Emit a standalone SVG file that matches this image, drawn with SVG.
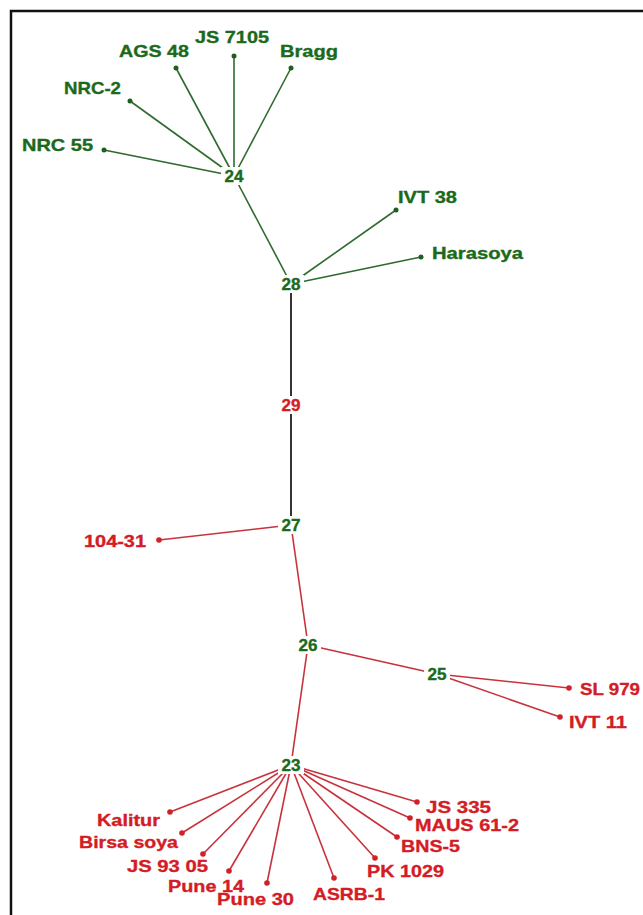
<svg xmlns="http://www.w3.org/2000/svg" width="643" height="915" viewBox="0 0 643 915">
<style>
.g{stroke:#2f6a2f;stroke-width:1.6;fill:none}
.r{stroke:#c8323c;stroke-width:1.6;fill:none}
.k{stroke:#333;stroke-width:2;fill:none}
.gd{fill:#1f5e1f}
.rd{fill:#d0202a}
.lbl{font-family:"Liberation Sans",Arial,sans-serif;font-weight:bold;font-size:17px;stroke-width:0.35}
.gt{fill:#1b6a1b;stroke:#1b6a1b}
.rt{fill:#d41c24;stroke:#d41c24}
.num{font-family:"Liberation Sans",Arial,sans-serif;font-weight:bold;font-size:16px;text-anchor:middle;stroke-width:0.35}
.bg{fill:#fff}
</style>
<rect x="11" y="11" width="700" height="1000" fill="#fff" stroke="#111" stroke-width="2.5"/>
<g id="connectors">
<line class="g" x1="234" y1="176" x2="104" y2="150"/>
<line class="g" x1="234" y1="176" x2="130" y2="101"/>
<line class="g" x1="234" y1="176" x2="176" y2="68"/>
<line class="g" x1="234" y1="176" x2="234" y2="56"/>
<line class="g" x1="234" y1="176" x2="291" y2="68"/>
<line class="g" x1="234" y1="176" x2="291" y2="284"/>
<line class="g" x1="291" y1="284" x2="396" y2="210"/>
<line class="g" x1="291" y1="284" x2="421" y2="257"/>
<line class="k" x1="291" y1="284" x2="291" y2="525"/>
<line class="r" x1="291" y1="525" x2="159" y2="540"/>
<line class="r" x1="291" y1="525" x2="308" y2="645"/>
<line class="r" x1="308" y1="645" x2="437" y2="674"/>
<line class="r" x1="437" y1="674" x2="569" y2="688"/>
<line class="r" x1="437" y1="674" x2="560" y2="717"/>
<line class="r" x1="308" y1="645" x2="291" y2="765"/>
<line class="r" x1="291" y1="765" x2="170" y2="812"/>
<line class="r" x1="291" y1="765" x2="182" y2="833"/>
<line class="r" x1="291" y1="765" x2="203" y2="854"/>
<line class="r" x1="291" y1="765" x2="229" y2="871"/>
<line class="r" x1="291" y1="765" x2="267" y2="883"/>
<line class="r" x1="291" y1="765" x2="334" y2="878"/>
<line class="r" x1="291" y1="765" x2="375" y2="858"/>
<line class="r" x1="291" y1="765" x2="397" y2="837"/>
<line class="r" x1="291" y1="765" x2="410" y2="818"/>
<line class="r" x1="291" y1="765" x2="417" y2="802"/>
</g>
<g id="n24"><rect class="bg" x="221" y="167" width="26" height="18"/><text class="num gt" x="234" y="182" textLength="19" lengthAdjust="spacingAndGlyphs">24</text></g>
<g id="n28"><rect class="bg" x="278" y="275" width="26" height="18"/><text class="num gt" x="291" y="290" textLength="19" lengthAdjust="spacingAndGlyphs">28</text></g>
<g id="n29"><rect class="bg" x="278" y="396" width="26" height="18"/><text class="num rt" x="291" y="411" textLength="19" lengthAdjust="spacingAndGlyphs">29</text></g>
<g id="n27"><rect class="bg" x="278" y="516" width="26" height="18"/><text class="num gt" x="291" y="531" textLength="19" lengthAdjust="spacingAndGlyphs">27</text></g>
<g id="n26"><rect class="bg" x="295" y="636" width="26" height="18"/><text class="num gt" x="308" y="651" textLength="19" lengthAdjust="spacingAndGlyphs">26</text></g>
<g id="n25"><rect class="bg" x="424" y="665" width="26" height="18"/><text class="num gt" x="437" y="680" textLength="19" lengthAdjust="spacingAndGlyphs">25</text></g>
<g id="n23"><rect class="bg" x="278" y="756" width="26" height="18"/><text class="num gt" x="291" y="771" textLength="19" lengthAdjust="spacingAndGlyphs">23</text></g>
<g id="NRC55"><circle class="gd" cx="104" cy="150" r="2.5"/><text class="lbl gt" x="22" y="151" textLength="71" lengthAdjust="spacingAndGlyphs">NRC 55</text></g>
<g id="NRC2"><circle class="gd" cx="130" cy="101" r="2.5"/><text class="lbl gt" x="64" y="94" textLength="57" lengthAdjust="spacingAndGlyphs">NRC-2</text></g>
<g id="AGS48"><circle class="gd" cx="176" cy="68" r="2.5"/><text class="lbl gt" x="119" y="57" textLength="70" lengthAdjust="spacingAndGlyphs">AGS 48</text></g>
<g id="JS7105"><circle class="gd" cx="234" cy="56" r="2.5"/><text class="lbl gt" x="195" y="43" textLength="74" lengthAdjust="spacingAndGlyphs">JS 7105</text></g>
<g id="Bragg"><circle class="gd" cx="291" cy="68" r="2.5"/><text class="lbl gt" x="280" y="57" textLength="58" lengthAdjust="spacingAndGlyphs">Bragg</text></g>
<g id="IVT38"><circle class="gd" cx="396" cy="210" r="2.5"/><text class="lbl gt" x="398" y="203" textLength="59" lengthAdjust="spacingAndGlyphs">IVT 38</text></g>
<g id="Harasoya"><circle class="gd" cx="421" cy="257" r="2.5"/><text class="lbl gt" x="432" y="259" textLength="91" lengthAdjust="spacingAndGlyphs">Harasoya</text></g>
<g id="n104-31"><circle class="rd" cx="159" cy="540" r="2.8"/><text class="lbl rt" x="84" y="547" textLength="62" lengthAdjust="spacingAndGlyphs">104-31</text></g>
<g id="SL979"><circle class="rd" cx="569" cy="688" r="2.8"/><text class="lbl rt" x="580" y="695" textLength="60" lengthAdjust="spacingAndGlyphs">SL 979</text></g>
<g id="IVT11"><circle class="rd" cx="560" cy="717" r="2.8"/><text class="lbl rt" x="569" y="728" textLength="58" lengthAdjust="spacingAndGlyphs">IVT 11</text></g>
<g id="Kalitur"><circle class="rd" cx="170" cy="812" r="2.8"/><text class="lbl rt" x="97" y="826" textLength="63" lengthAdjust="spacingAndGlyphs">Kalitur</text></g>
<g id="Birsasoya"><circle class="rd" cx="182" cy="833" r="2.8"/><text class="lbl rt" x="79" y="848" textLength="99" lengthAdjust="spacingAndGlyphs">Birsa soya</text></g>
<g id="JS9305"><circle class="rd" cx="203" cy="854" r="2.8"/><text class="lbl rt" x="127" y="872" textLength="81" lengthAdjust="spacingAndGlyphs">JS 93 05</text></g>
<g id="Pune14"><circle class="rd" cx="229" cy="871" r="2.8"/><text class="lbl rt" x="168" y="892" textLength="76" lengthAdjust="spacingAndGlyphs">Pune 14</text></g>
<g id="Pune30"><circle class="rd" cx="267" cy="883" r="2.8"/><text class="lbl rt" x="217" y="905" textLength="77" lengthAdjust="spacingAndGlyphs">Pune 30</text></g>
<g id="ASRB1"><circle class="rd" cx="334" cy="878" r="2.8"/><text class="lbl rt" x="313" y="900" textLength="72" lengthAdjust="spacingAndGlyphs">ASRB-1</text></g>
<g id="PK1029"><circle class="rd" cx="375" cy="858" r="2.8"/><text class="lbl rt" x="367" y="877" textLength="77" lengthAdjust="spacingAndGlyphs">PK 1029</text></g>
<g id="BNS5"><circle class="rd" cx="397" cy="837" r="2.8"/><text class="lbl rt" x="401" y="852" textLength="59" lengthAdjust="spacingAndGlyphs">BNS-5</text></g>
<g id="MAUS61-2"><circle class="rd" cx="410" cy="818" r="2.8"/><text class="lbl rt" x="415" y="831" textLength="104" lengthAdjust="spacingAndGlyphs">MAUS 61-2</text></g>
<g id="JS335"><circle class="rd" cx="417" cy="802" r="2.8"/><text class="lbl rt" x="426" y="813" textLength="65" lengthAdjust="spacingAndGlyphs">JS 335</text></g>
</svg>
